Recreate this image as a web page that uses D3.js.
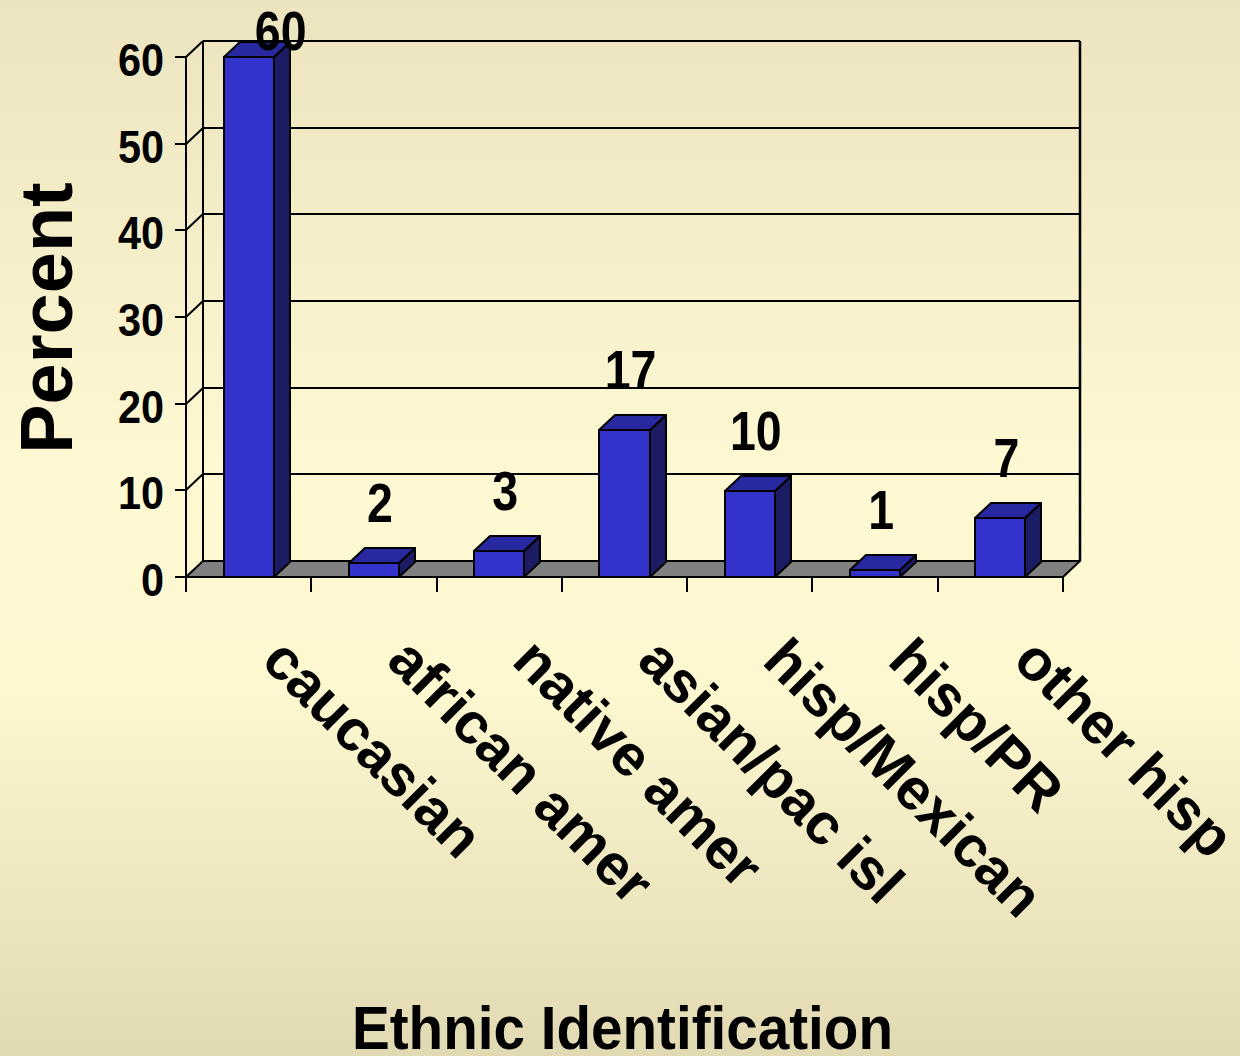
<!DOCTYPE html>
<html>
<head>
<meta charset="utf-8">
<script src="https://cdn.jsdelivr.net/npm/d3@7"></script>
<style>
  html, body { margin: 0; padding: 0; }
  body { width: 1240px; height: 1056px; overflow: hidden; }
  svg text { font-family: "Liberation Sans", Arial, sans-serif; font-weight: bold; fill: #000; }
</style>
</head>
<body>
<svg id="chart" width="1240" height="1056"></svg>
<script>
const categories = ["caucasian", "african amer", "native amer", "asian/pac isl", "hisp/Mexican", "hisp/PR", "other hisp"];
const values = [60, 1.6, 3.0, 17.0, 9.9, 0.8, 6.8];
const yTicks = [0, 10, 20, 30, 40, 50, 60];
const yTitle = "Percent";
const xTitle = "Ethnic Identification";

const svg = d3.select("#chart");
const W = 1240, H = 1056;

// background gradient
const defs = svg.append("defs");
const grad = defs.append("linearGradient").attr("id", "bg").attr("x1", 0).attr("y1", 0).attr("x2", 0).attr("y2", 1);
grad.append("stop").attr("offset", "0%").attr("stop-color", "#ebe4bf");
grad.append("stop").attr("offset", "45%").attr("stop-color", "#fef9d2");
grad.append("stop").attr("offset", "65%").attr("stop-color", "#fdf8d0");
grad.append("stop").attr("offset", "100%").attr("stop-color", "#e1d9b1");
svg.append("rect").attr("width", W).attr("height", H).attr("fill", "url(#bg)");

// geometry
const x0 = 186, x1 = 1063;
const floorDX = 17, floorDY = -16;
const barDX = 16, barDY = -15;

const x = d3.scaleBand().domain(categories).range([x0, x1]).paddingInner(0.6).paddingOuter(0.3);
const y = d3.scaleLinear().domain([0, 60]).range([577, 57]).interpolate(d3.interpolateRound);
const step = x.step();

const g = svg.append("g");

// back wall gridlines
yTicks.filter(t => t > 0).forEach(t => {
  g.append("line")
    .attr("x1", x0 + floorDX).attr("x2", x1 + floorDX)
    .attr("y1", y(t) + floorDY).attr("y2", y(t) + floorDY)
    .attr("stroke", "#000").attr("stroke-width", 2);
  g.append("line")
    .attr("x1", x0).attr("y1", y(t))
    .attr("x2", x0 + floorDX).attr("y2", y(t) + floorDY)
    .attr("stroke", "#000").attr("stroke-width", 2);
});
g.append("line").attr("x1", x0 + floorDX).attr("x2", x0 + floorDX)
  .attr("y1", y(60) + floorDY).attr("y2", y(0) + floorDY).attr("stroke", "#000").attr("stroke-width", 2);
g.append("line").attr("x1", x1 + floorDX).attr("x2", x1 + floorDX)
  .attr("y1", y(60) + floorDY).attr("y2", y(0) + floorDY).attr("stroke", "#000").attr("stroke-width", 2.5);

// floor
g.append("polygon")
  .attr("points", [[x0, y(0)], [x0 + floorDX, y(0) + floorDY], [x1 + floorDX, y(0) + floorDY], [x1, y(0)]].map(p => p.join(",")).join(" "))
  .attr("fill", "#808080").attr("stroke", "#000").attr("stroke-width", 2).attr("stroke-linejoin", "round");

// front y axis
g.append("line").attr("x1", x0).attr("x2", x0).attr("y1", y(60)).attr("y2", y(0) + 15)
  .attr("stroke", "#000").attr("stroke-width", 2);
yTicks.forEach(t => {
  g.append("line").attr("x1", x0 - 11).attr("x2", x0).attr("y1", y(t)).attr("y2", y(t))
    .attr("stroke", "#000").attr("stroke-width", 2);
  g.append("text").attr("transform", `translate(164,${y(t) + 19}) scale(0.9,1)`)
    .attr("text-anchor", "end").attr("font-size", 46).text(t);
});
// front x axis line and ticks
g.append("line").attr("x1", x0).attr("x2", x1).attr("y1", y(0)).attr("y2", y(0))
  .attr("stroke", "#000").attr("stroke-width", 2);
d3.range(categories.length + 1).forEach(i => {
  const tx = Math.round(x0 + i * step);
  g.append("line").attr("x1", tx).attr("x2", tx).attr("y1", y(0)).attr("y2", y(0) + 15)
    .attr("stroke", "#000").attr("stroke-width", 2);
});

// bars
const bars = g.selectAll("g.bar").data(categories.map((c, i) => ({ c, v: values[i] }))).join("g").attr("class", "bar");
bars.each(function(d) {
  const sel = d3.select(this);
  const bx0 = Math.round(x(d.c)), bx1 = Math.round(x(d.c) + x.bandwidth());
  const top = y(d.v), bot = y(0);
  sel.append("polygon")
    .attr("points", [[bx1, top], [bx1 + barDX, top + barDY], [bx1 + barDX, bot + barDY], [bx1, bot]].map(p => p.join(",")).join(" "))
    .attr("fill", "#1c1c64").attr("stroke", "#000").attr("stroke-width", 2).attr("stroke-linejoin", "round");
  sel.append("polygon")
    .attr("points", [[bx0, top], [bx0 + barDX, top + barDY], [bx1 + barDX, top + barDY], [bx1, top]].map(p => p.join(",")).join(" "))
    .attr("fill", "#2828a0").attr("stroke", "#000").attr("stroke-width", 2).attr("stroke-linejoin", "round");
  sel.append("rect")
    .attr("x", bx0).attr("y", top).attr("width", bx1 - bx0).attr("height", bot - top)
    .attr("fill", "#3333cc").attr("stroke", "#000").attr("stroke-width", 2);
});

// data labels (pushed down and right when they would leave the chart area)
bars.each(function(d) {
  const want = y(d.v) - 41;
  const clamped = want < 50;
  const cx = x(d.c) + x.bandwidth() / 2 + 6 + (clamped ? 26 : 0);
  const by = clamped ? 50 : want;
  d3.select(this).append("text")
    .attr("transform", `translate(${cx},${by}) scale(0.83,1)`)
    .attr("text-anchor", "middle").attr("font-size", 56)
    .text(d3.format(".0f")(d.v));
});

// category labels
categories.forEach(c => {
  const cx = x(c) + x.bandwidth() / 2 + 11;
  g.append("text")
    .attr("transform", `translate(${cx},663) rotate(45)`)
    .attr("font-size", 58).text(c);
});

// axis titles
svg.append("text").attr("transform", "translate(72,318) rotate(-90)")
  .attr("text-anchor", "middle").attr("font-size", 74).text(yTitle);
svg.append("text").attr("x", 622.5).attr("y", 1049)
  .attr("text-anchor", "middle").attr("font-size", 62)
  .attr("textLength", 541).attr("lengthAdjust", "spacingAndGlyphs").text(xTitle);
</script>
</body>
</html>
